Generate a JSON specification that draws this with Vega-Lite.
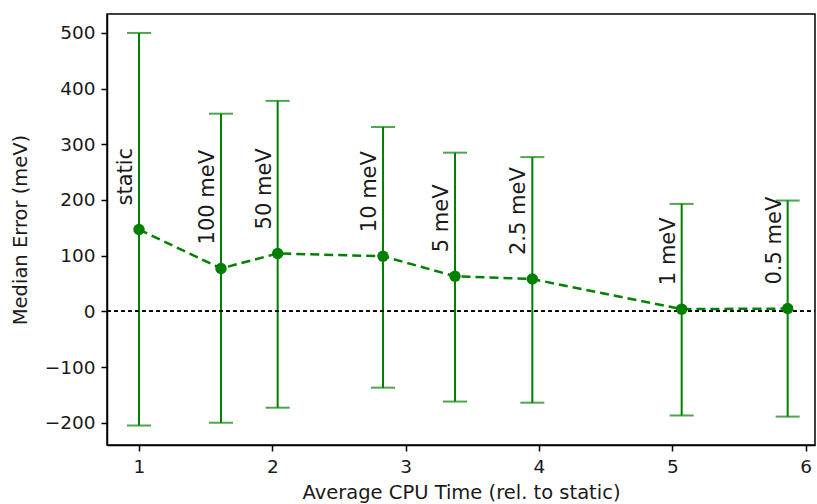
{
  "$schema": "https://vega.github.io/schema/vega-lite/v6.json",
  "width": 708,
  "height": 431,
  "autosize": {"type": "none"},
  "padding": {"left": 107, "top": 14, "right": 2, "bottom": 59},
  "background": "white",
  "config": {
    "font": "DejaVu Sans",
    "view": {"stroke": "black", "strokeWidth": 1.5},
    "axis": {
      "grid": false,
      "domainColor": "black",
      "domainWidth": 1.5,
      "tickColor": "black",
      "tickWidth": 1.5,
      "tickSize": 6,
      "labelFont": "DejaVu Sans",
      "labelFontSize": 18.5,
      "labelColor": "#1a1a1a",
      "titleFont": "DejaVu Sans",
      "titleFontSize": 19.5,
      "titleFontWeight": "normal",
      "titleColor": "#1a1a1a"
    }
  },
  "data": {
    "values": [
      {"label": "static", "cpu": 1.0, "median": 147, "lo": -205, "hi": 500},
      {"label": "100 meV", "cpu": 1.615, "median": 77, "lo": -200, "hi": 355},
      {"label": "50 meV", "cpu": 2.04, "median": 104, "lo": -173, "hi": 378},
      {"label": "10 meV", "cpu": 2.83, "median": 99, "lo": -137, "hi": 331},
      {"label": "5 meV", "cpu": 3.37, "median": 63, "lo": -162, "hi": 285},
      {"label": "2.5 meV", "cpu": 3.95, "median": 58, "lo": -164, "hi": 277},
      {"label": "1 meV", "cpu": 5.07, "median": 4, "lo": -187, "hi": 193},
      {"label": "0.5 meV", "cpu": 5.865, "median": 5, "lo": -189, "hi": 199}
    ]
  },
  "encoding": {
    "x": {
      "field": "cpu",
      "type": "quantitative",
      "scale": {"domain": [0.76, 6.07], "nice": false, "zero": false},
      "axis": {"values": [1, 2, 3, 4, 5, 6], "title": "Average CPU Time (rel. to static)", "labelPadding": 6, "titlePadding": 8}
    }
  },
  "layer": [
    {
      "mark": {"type": "rule", "color": "#008000", "strokeWidth": 2},
      "encoding": {
        "y": {
          "field": "lo",
          "type": "quantitative",
          "scale": {"domain": [-240, 534], "nice": false, "zero": false},
          "axis": {"values": [-200, -100, 0, 100, 200, 300, 400, 500], "title": "Median Error (meV)", "labelPadding": 6, "titlePadding": 14}
        },
        "y2": {"field": "hi"}
      }
    },
    {
      "mark": {"type": "tick", "orient": "horizontal", "color": "#008000", "size": 24, "thickness": 2},
      "encoding": {"y": {"field": "lo", "type": "quantitative"}}
    },
    {
      "mark": {"type": "tick", "orient": "horizontal", "color": "#008000", "size": 24, "thickness": 2},
      "encoding": {"y": {"field": "hi", "type": "quantitative"}}
    },
    {
      "mark": {"type": "line", "color": "#008000", "strokeWidth": 2.5, "strokeDash": [9, 5]},
      "encoding": {"y": {"field": "median", "type": "quantitative"}}
    },
    {
      "mark": {"type": "rule", "color": "black", "strokeWidth": 1.2, "strokeDash": [4, 3]},
      "encoding": {"y": {"datum": 0, "type": "quantitative"}, "x": {"value": 0}, "x2": {"value": 708}}
    },
    {
      "mark": {"type": "circle", "color": "#008000", "size": 130, "opacity": 1},
      "encoding": {"y": {"field": "median", "type": "quantitative"}}
    },
    {
      "mark": {"type": "text", "angle": 270, "align": "left", "baseline": "bottom", "dx": 24, "dy": -3, "fontSize": 21, "color": "#1a1a1a", "font": "DejaVu Sans"},
      "encoding": {"y": {"field": "median", "type": "quantitative"}, "text": {"field": "label"}}
    }
  ]
}
